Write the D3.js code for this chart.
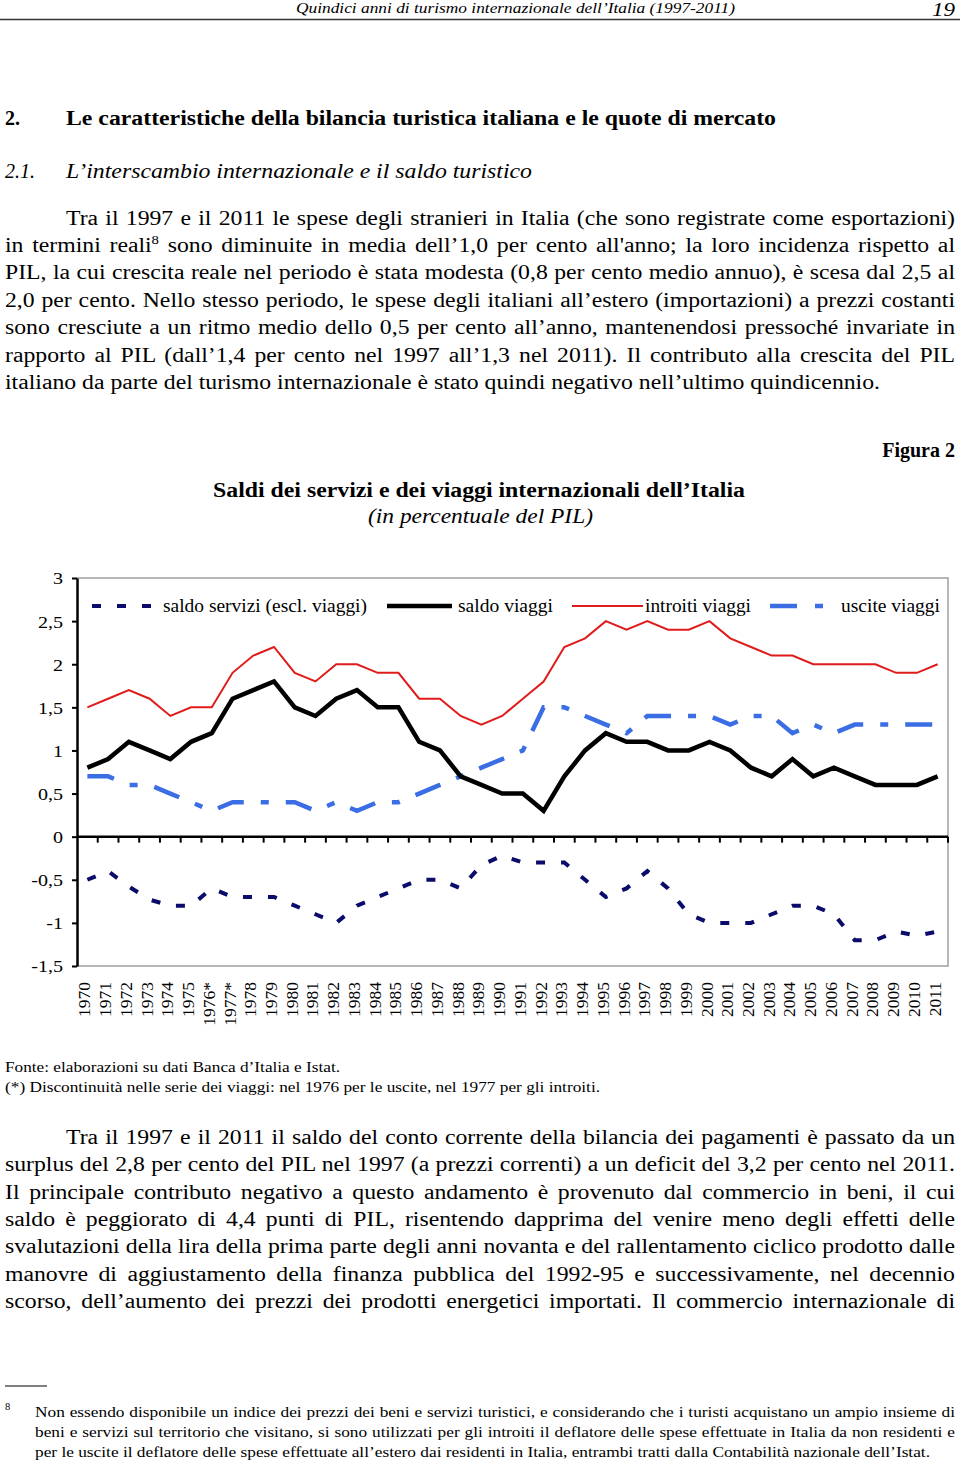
<!DOCTYPE html>
<html><head><meta charset="utf-8">
<script src="https://cdn.jsdelivr.net/npm/d3@7"></script>
<style>
body{margin:0;background:#fff}
svg{display:block}
text{font-family:"Liberation Serif","Times New Roman",serif;fill:#000}
</style></head>
<body><svg id="page" width="960" height="1463"></svg>
<script>
// ---------- DATA ----------
const years = ["1970","1971","1972","1973","1974","1975","1976*","1977*","1978","1979",
  "1980","1981","1982","1983","1984","1985","1986","1987","1988","1989",
  "1990","1991","1992","1993","1994","1995","1996","1997","1998","1999",
  "2000","2001","2002","2003","2004","2005","2006","2007","2008","2009","2010","2011"];
const saldoServizi = [-0.5,-0.4,-0.58,-0.73,-0.8,-0.8,-0.6,-0.7,-0.7,-0.7,
  -0.8,-0.9,-1.0,-0.8,-0.7,-0.6,-0.5,-0.5,-0.6,-0.33,
  -0.22,-0.3,-0.3,-0.3,-0.5,-0.7,-0.6,-0.4,-0.6,-0.9,
  -1.0,-1.0,-1.0,-0.9,-0.8,-0.8,-0.9,-1.2,-1.2,-1.1,-1.15,-1.1];
const saldoViaggi = [0.8,0.9,1.1,1.0,0.9,1.1,1.2,1.6,1.7,1.8,
  1.5,1.4,1.6,1.7,1.5,1.5,1.1,1.0,0.7,0.6,
  0.5,0.5,0.3,0.7,1.0,1.2,1.1,1.1,1.0,1.0,
  1.1,1.0,0.8,0.7,0.9,0.7,0.8,0.7,0.6,0.6,0.6,0.7];
const introitiViaggi = [1.5,1.6,1.7,1.6,1.4,1.5,1.5,1.9,2.1,2.2,
  1.9,1.8,2.0,2.0,1.9,1.9,1.6,1.6,1.4,1.3,
  1.4,1.6,1.8,2.2,2.3,2.5,2.4,2.5,2.4,2.4,
  2.5,2.3,2.2,2.1,2.1,2.0,2.0,2.0,2.0,1.9,1.9,2.0];
const usciteViaggi = [0.7,0.7,0.6,0.6,0.5,0.4,0.3,0.4,0.4,0.4,
  0.4,0.3,0.4,0.3,0.4,0.4,0.5,0.6,0.7,0.8,
  0.9,1.0,1.5,1.5,1.4,1.3,1.2,1.4,1.4,1.4,
  1.4,1.3,1.4,1.4,1.2,1.3,1.2,1.3,1.3,1.3,1.3,1.3];
const yTicks = [-1.5,-1,-0.5,0,0.5,1,1.5,2,2.5,3];
const seriesNames = ["saldo servizi (escl. viaggi)","saldo viaggi","introiti viaggi","uscite viaggi"];

const para1 = [
 "Tra il 1997 e il 2011 le spese degli stranieri in Italia (che sono registrate come esportazioni)",
 ["in termini reali","8"," sono diminuite in media dell’1,0 per cento all'anno; la loro incidenza rispetto al"],
 "PIL, la cui crescita reale nel periodo è stata modesta (0,8 per cento medio annuo), è scesa dal 2,5 al",
 "2,0 per cento. Nello stesso periodo, le spese degli italiani all’estero (importazioni) a prezzi costanti",
 "sono cresciute a un ritmo medio dello 0,5 per cento all’anno, mantenendosi pressoché invariate in",
 "rapporto al PIL (dall’1,4 per cento nel 1997 all’1,3 nel 2011). Il contributo alla crescita del PIL",
 "italiano da parte del turismo internazionale è stato quindi negativo nell’ultimo quindicennio."];
const para2 = [
 "Tra il 1997 e il 2011 il saldo del conto corrente della bilancia dei pagamenti è passato da un",
 "surplus del 2,8 per cento del PIL nel 1997 (a prezzi correnti) a un deficit del 3,2 per cento nel 2011.",
 "Il principale contributo negativo a questo andamento è provenuto dal commercio in beni, il cui",
 "saldo è peggiorato di 4,4 punti di PIL, risentendo dapprima del venire meno degli effetti delle",
 "svalutazioni della lira della prima parte degli anni novanta e del rallentamento ciclico prodotto dalle",
 "manovre di aggiustamento della finanza pubblica del 1992-95 e successivamente, nel decennio",
 "scorso, dell’aumento dei prezzi dei prodotti energetici importati. Il commercio internazionale di"];
const footnote = [
 "Non essendo disponibile un indice dei prezzi dei beni e servizi turistici, e considerando che i turisti acquistano un ampio insieme di",
 "beni e servizi sul territorio che visitano, si sono utilizzati per gli introiti il deflatore delle spese effettuate in Italia da non residenti e",
 "per le uscite il deflatore delle spese effettuate all’estero dai residenti in Italia, entrambi tratti dalla Contabilità nazionale dell’Istat."];

// ---------- PAGE ----------
const svg = d3.select("#page");

function measure(str, size, italic) {
  const t = svg.append("text").style("font-size", size + "px")
    .style("font-style", italic ? "italic" : "normal").text(str);
  const w = t.node().getComputedTextLength();
  t.remove();
  return w;
}

function txt(str, x, y, size, opts = {}) {
  const t = svg.append("text").attr("x", x).attr("y", y)
    .style("font-size", size + "px")
    .style("font-style", opts.italic ? "italic" : "normal")
    .style("font-weight", opts.bold ? "bold" : "normal");
  if (Array.isArray(str)) {
    t.append("tspan").text(str[0]);
    t.append("tspan").text(str[1]).style("font-size", (size*0.62)+"px").attr("dy", -8);
    t.append("tspan").text(str[2]).attr("dy", 8);
  } else t.text(str);
  if (opts.anchor) t.attr("text-anchor", opts.anchor);
  if (opts.width) {
    if (opts.justify) {
      const r = opts.r || 1;
      const nat = t.node().getComputedTextLength();
      const full = Array.isArray(str) ? str.join("") : str;
      const spaces = (full.match(/ /g) || []).length;
      const ws = spaces > 0 ? (opts.width / r - nat) / spaces : 0;
      t.style("word-spacing", ws + "px");
    }
    t.attr("textLength", opts.width).attr("lengthAdjust", "spacingAndGlyphs");
  }
  return t;
}

// header
txt("Quindici anni di turismo internazionale dell’Italia (1997-2011)", 296, 13, 15.5, {italic:true, width:439});
txt("19", 932, 16, 19, {italic:true, width:23});
svg.append("line").attr("x1",0).attr("x2",960).attr("y1",19.5).attr("y2",19.5)
  .attr("stroke","#333").attr("stroke-width",1.5);

txt("2.", 5, 125, 20, {bold:true});
txt("Le caratteristiche della bilancia turistica italiana e le quote di mercato", 66, 125, 20, {bold:true, width:710});
txt("2.1.", 5, 178, 20, {italic:true});
txt("L’interscambio internazionale e il saldo turistico", 66, 178, 20, {italic:true, width:466});

// stretch factor of the body text (from the unjustified last line)
const rBody = 875 / measure(para1[para1.length-1], 20);
const lh = 27.45;
para1.forEach((l, i) => {
  const x0 = i === 0 ? 66 : 5;
  const last = i === para1.length - 1;
  txt(l, x0, 224.5 + i*lh, 20, {width: last ? 875 : 955 - x0, justify: !last, r: rBody});
});

// figure titles
txt("Figura 2", 955, 457, 20, {bold:true, anchor:"end"});
txt("Saldi dei servizi e dei viaggi internazionali dell’Italia", 213, 497, 20, {bold:true, width:532});
txt("(in percentuale del PIL)", 368, 523, 20, {italic:true, width:225});

// ---------- CHART ----------
const x = d3.scaleBand().domain(years).range([77, 948]);
const y = d3.scaleLinear().domain([-1.5, 3]).range([966, 578]);
const bw = x.bandwidth();
const cx = i => x(years[i]) + bw/2;

const g = svg.append("g");
g.append("path").attr("d", `M77,${y(3)}H948V${y(-1.5)}H77`)
  .attr("fill","none").attr("stroke","#a0a0a0").attr("stroke-width",1.5);

const yAxis = g.append("g").attr("transform","translate(77,0)")
  .call(d3.axisLeft(y).tickValues(yTicks).tickSize(5).tickSizeOuter(0)
    .tickFormat(d => String(d).replace(".", ",")));
yAxis.select(".domain").attr("stroke","#000").attr("stroke-width",2.5);
yAxis.selectAll(".tick line").attr("stroke","#000").attr("stroke-width",2);
yAxis.selectAll(".tick text").attr("x",-14).attr("dy","0.35em")
  .style("font-size","17px").style("font-family","Liberation Serif, serif").attr("fill","#000")
  .each(function() {
    const w = this.getComputedTextLength();
    d3.select(this).attr("textLength", w * 1.18).attr("lengthAdjust", "spacingAndGlyphs");
  });

const y0 = y(0);
g.append("line").attr("x1",77).attr("x2",948).attr("y1",y0).attr("y2",y0)
  .attr("stroke","#000").attr("stroke-width",2.5);
const bounds = years.map(d => x(d)).concat([948]).slice(1);
g.selectAll(".xt").data(bounds).join("line")
  .attr("x1", d => d).attr("x2", d => d).attr("y1", y0).attr("y2", y0 + 6)
  .attr("stroke","#000").attr("stroke-width",2);

g.selectAll(".xl").data(years).join("text")
  .attr("transform", d => `translate(${x(d) + bw/2 + 3},982) rotate(-90)`)
  .attr("text-anchor","end").style("font-size","17.5px").text(d => d);

const line = d3.line().x((d,i) => cx(i)).y(d => y(d));
const styles = [
  {data: saldoServizi, color:"#0b0b6b", w:4, dash:"9,16"},
  {data: saldoViaggi, color:"#000000", w:4.5, dash:null},
  {data: introitiViaggi, color:"#df1b1b", w:2, dash:null},
  {data: usciteViaggi, color:"#3b6ee4", w:4.5, dash:"27,17,8,17"}
];
[2,3,1,0].forEach(k => {
  const s = styles[k];
  g.append("path").datum(s.data).attr("d", line)
    .attr("fill","none").attr("stroke", s.color).attr("stroke-width", s.w)
    .attr("stroke-dasharray", s.dash).attr("stroke-linejoin","miter");
});

const legY = 606;
const legend = [
  {x1:92, x2:152, tx:163},
  {x1:387, x2:452, tx:458},
  {x1:572, x2:643, tx:645},
  {x1:770, x2:825, tx:841}
];
const legW = [204, 95, 106, 99];
legend.forEach((L, k) => {
  const s = styles[k];
  g.append("line").attr("x1", L.x1).attr("x2", L.x2).attr("y1", legY).attr("y2", legY)
    .attr("stroke", s.color).attr("stroke-width", s.w).attr("stroke-dasharray", k===3 ? "27,18,8,18" : s.dash);
  txt(seriesNames[k], L.tx, legY + 6, 18, {width: legW[k]});
});

// notes
txt("Fonte: elaborazioni su dati Banca d’Italia e Istat.", 5, 1072, 15, {width:335});
txt("(*) Discontinuità nelle serie dei viaggi: nel 1976 per le uscite, nel 1977 per gli introiti.", 5, 1092, 15, {width:595});

para2.forEach((l, i) => {
  const x0 = i === 0 ? 66 : 5;
  txt(l, x0, 1144 + i*27.3, 20, {width: 955 - x0, justify: true, r: rBody});
});

// footnote
svg.append("line").attr("x1",5).attr("x2",47).attr("y1",1386).attr("y2",1386)
  .attr("stroke","#000").attr("stroke-width",1);
txt("8", 5, 1410, 10.5);
const rFoot = 895 / measure(footnote[footnote.length-1], 15.5);
footnote.forEach((l, i) => {
  const last = i === footnote.length - 1;
  txt(l, 35, 1417 + i*20, 15.5, {width: last ? 895 : 920, justify: !last, r: rFoot});
});
</script></body></html>
